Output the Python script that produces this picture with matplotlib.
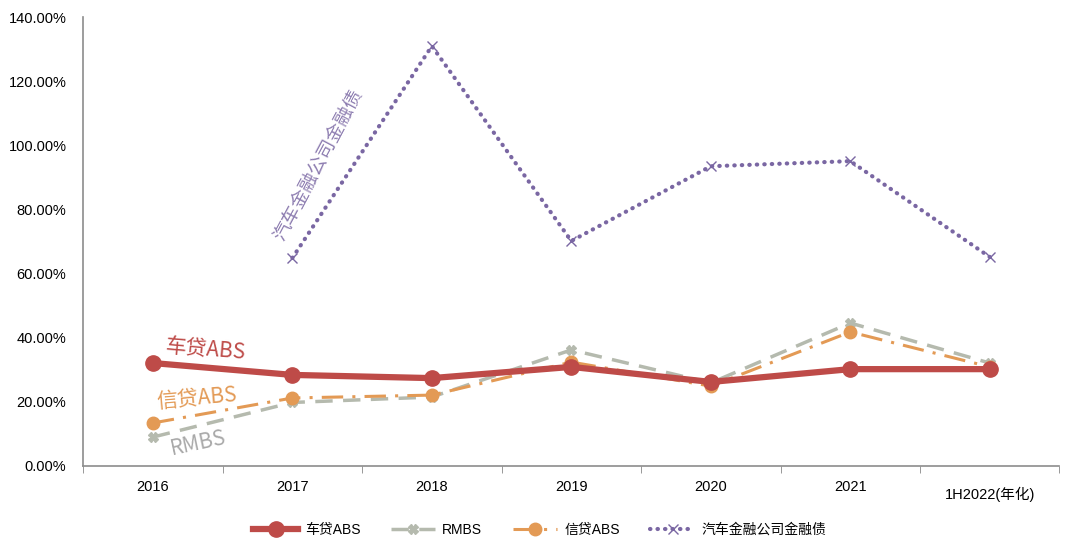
import matplotlib
matplotlib.use("Agg")
import matplotlib.pyplot as plt
from matplotlib.ticker import FuncFormatter, FixedLocator
import numpy as np

plt.rcParams['font.family'] = ['Liberation Sans', 'Noto Sans CJK SC', 'DejaVu Sans']

categories = ["2016", "2017", "2018", "2019", "2020", "2021", "1H2022(年化)"]
auto_abs = [0.321, 0.284, 0.274, 0.309, 0.262, 0.302, 0.302]
rmbs = [0.090, 0.198, 0.215, 0.362, 0.259, 0.446, 0.321]
credit_abs = [0.134, 0.212, 0.221, 0.324, 0.249, 0.418, 0.309]
auto_fin = [np.nan, 0.649, 1.310, 0.702, 0.935, 0.951, 0.652]

c_red = "#BE4B48"
c_gray = "#B5BAAE"
c_orange = "#E39A55"
c_purple = "#7A67A3"

fig = plt.figure(figsize=(10.8, 5.56), dpi=100)
ax = fig.add_axes([0.077, 0.162, 0.904, 0.807])
x = np.arange(len(categories))

ax.plot(x, auto_abs, color=c_red, lw=4.5, marker='o', ms=11, label="车贷ABS", zorder=5)
ax.plot(x, rmbs, color=c_gray, lw=2.5, ls=(0, (5, 3)), marker='X', ms=7, label="RMBS", zorder=3)
ax.plot(x, credit_abs, color=c_orange, lw=2.2, ls=(0, (7, 3, 1, 3)), marker='o', ms=9, label="信贷ABS", zorder=4)
ax.plot(x, auto_fin, color=c_purple, lw=3, ls=(0, (0.1, 1.7)), dash_capstyle='round',
        marker='x', ms=7, mew=1, label="汽车金融公司金融债", zorder=2)

ax.set_xlim(-0.5, len(categories) - 0.5)
ax.set_ylim(0, 1.4)
ax.yaxis.set_major_locator(FixedLocator(np.arange(0, 1.41, 0.2)))
ax.yaxis.set_major_formatter(FuncFormatter(lambda v, p: f"{v*100:.2f}%"))
ax.set_xticks(x)
ax.set_xticklabels(categories)
ax.tick_params(axis='x', length=0, pad=10, labelsize=10.5)
ax.set_xticks(np.arange(-0.5, len(categories)), minor=True)
ax.tick_params(axis='x', which='minor', length=5, direction='out', color='#888888')
ax.tick_params(axis='y', length=0, labelsize=10.5, pad=12)
lbls = ax.get_xticklabels()
lbls[-1].set_y(-0.015)

for s in ['top', 'right']:
    ax.spines[s].set_visible(False)
for s in ['left', 'bottom']:
    ax.spines[s].set_color('#8C8C8C')
    ax.spines[s].set_linewidth(1.2)

ax.text(0.375, 0.362, "车贷ABS", color=c_red, fontsize=15, rotation=-5, ha='center', va='center',
        family=['Noto Sans CJK SC'])
ax.text(0.318, 0.209, "信贷ABS", color=c_orange, fontsize=15, rotation=5, ha='center', va='center',
        family=['Noto Sans CJK SC'])
ax.text(0.325, 0.072, "RMBS", color='#A9A9A9', fontsize=15, rotation=12, ha='center', va='center',
        family=['Noto Sans CJK SC'])
ax.text(1.19, 0.939, "汽车金融公司金融债", color=c_purple, fontsize=13.5, rotation=62, ha='center', va='center',
        family=['Noto Sans CJK SC'], alpha=0.85)

fig.legend(loc='center', bbox_to_anchor=(0.5, 0.047), ncol=4, frameon=False, fontsize=10,
           handlelength=3.2, columnspacing=2.2, handletextpad=0.5)

fig.savefig("out.png", dpi=100)
